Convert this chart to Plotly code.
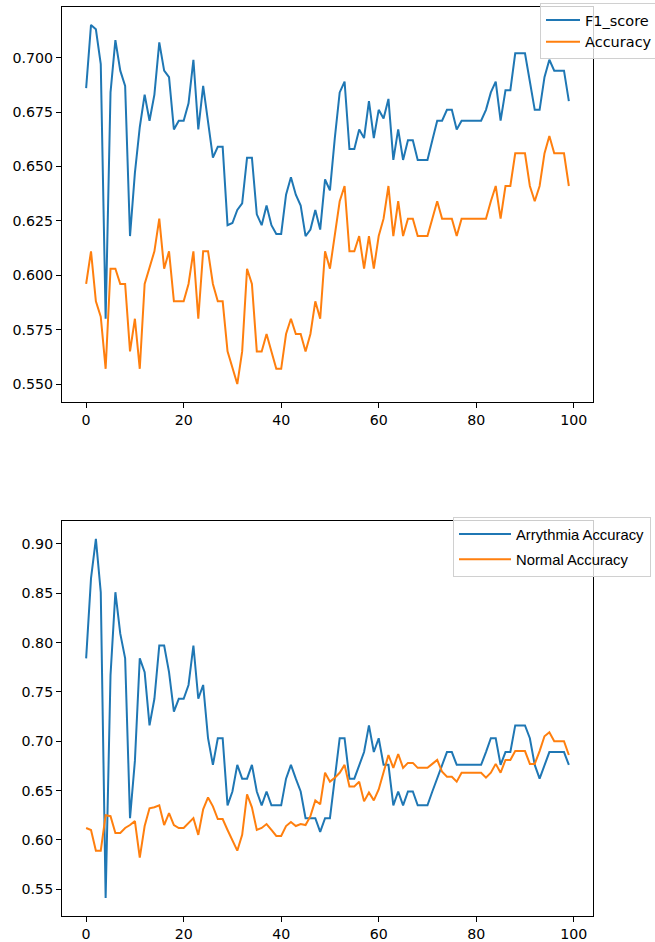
import plotly.graph_objects as go
from plotly.subplots import make_subplots

epochs = list(range(100))

f1_score = [0.686, 0.715, 0.713, 0.697, 0.580, 0.684, 0.708, 0.694, 0.687, 0.618,
            0.647, 0.668, 0.683, 0.671, 0.683, 0.707, 0.694, 0.691, 0.667, 0.671,
            0.671, 0.679, 0.699, 0.667, 0.687, 0.671, 0.654, 0.659, 0.659, 0.623,
            0.624, 0.630, 0.633, 0.654, 0.654, 0.628, 0.623, 0.632, 0.623, 0.619,
            0.619, 0.637, 0.645, 0.637, 0.632, 0.618, 0.621, 0.630, 0.621, 0.644,
            0.639, 0.663, 0.684, 0.689, 0.658, 0.658, 0.667, 0.663, 0.680, 0.663,
            0.676, 0.672, 0.681, 0.653, 0.667, 0.653, 0.662, 0.662, 0.653, 0.653,
            0.653, 0.662, 0.671, 0.671, 0.676, 0.676, 0.667, 0.671, 0.671, 0.671,
            0.671, 0.671, 0.676, 0.684, 0.689, 0.671, 0.685, 0.685, 0.702, 0.702,
            0.702, 0.689, 0.676, 0.676, 0.691, 0.699, 0.694, 0.694, 0.694, 0.680]

accuracy = [0.596, 0.611, 0.588, 0.581, 0.557, 0.603, 0.603, 0.596, 0.596, 0.565,
            0.580, 0.557, 0.596, 0.603, 0.611, 0.626, 0.603, 0.611, 0.588, 0.588,
            0.588, 0.596, 0.611, 0.580, 0.611, 0.611, 0.596, 0.588, 0.588, 0.565,
            0.557, 0.550, 0.565, 0.603, 0.596, 0.565, 0.565, 0.573, 0.565, 0.557,
            0.557, 0.573, 0.580, 0.573, 0.573, 0.565, 0.573, 0.588, 0.580, 0.611,
            0.603, 0.618, 0.634, 0.641, 0.611, 0.611, 0.618, 0.603, 0.618, 0.603,
            0.618, 0.626, 0.641, 0.618, 0.634, 0.618, 0.626, 0.626, 0.618, 0.618,
            0.618, 0.626, 0.634, 0.626, 0.626, 0.626, 0.618, 0.626, 0.626, 0.626,
            0.626, 0.626, 0.626, 0.634, 0.641, 0.626, 0.641, 0.641, 0.656, 0.656,
            0.656, 0.641, 0.634, 0.641, 0.656, 0.664, 0.656, 0.656, 0.656, 0.641]

arrythmia_accuracy = [0.784, 0.865, 0.905, 0.851, 0.541, 0.767, 0.851, 0.809, 0.784, 0.622,
                      0.680, 0.784, 0.770, 0.716, 0.743, 0.797, 0.797, 0.770, 0.730, 0.743,
                      0.743, 0.757, 0.797, 0.743, 0.757, 0.703, 0.676, 0.703, 0.703, 0.635,
                      0.649, 0.676, 0.662, 0.662, 0.676, 0.649, 0.635, 0.649, 0.635, 0.635,
                      0.635, 0.662, 0.676, 0.662, 0.649, 0.622, 0.622, 0.622, 0.608, 0.622,
                      0.622, 0.662, 0.703, 0.703, 0.662, 0.662, 0.676, 0.689, 0.716, 0.689,
                      0.703, 0.676, 0.676, 0.635, 0.649, 0.635, 0.649, 0.649, 0.635, 0.635,
                      0.635, 0.649, 0.662, 0.676, 0.689, 0.689, 0.676, 0.676, 0.676, 0.676,
                      0.676, 0.676, 0.689, 0.703, 0.703, 0.676, 0.689, 0.689, 0.716, 0.716,
                      0.716, 0.703, 0.676, 0.662, 0.676, 0.689, 0.689, 0.689, 0.689, 0.676]

normal_accuracy = [0.612, 0.610, 0.589, 0.589, 0.625, 0.624, 0.607, 0.607, 0.612, 0.615,
                   0.619, 0.582, 0.614, 0.632, 0.633, 0.635, 0.615, 0.627, 0.615, 0.612,
                   0.612, 0.617, 0.622, 0.605, 0.631, 0.643, 0.634, 0.621, 0.621, 0.610,
                   0.599, 0.589, 0.605, 0.646, 0.633, 0.610, 0.612, 0.616, 0.610, 0.604,
                   0.604, 0.614, 0.618, 0.614, 0.616, 0.615, 0.624, 0.640, 0.636, 0.668,
                   0.659, 0.663, 0.668, 0.676, 0.654, 0.654, 0.659, 0.639, 0.648, 0.640,
                   0.651, 0.669, 0.686, 0.673, 0.687, 0.673, 0.678, 0.678, 0.673, 0.673,
                   0.673, 0.677, 0.681, 0.669, 0.664, 0.664, 0.659, 0.668, 0.668, 0.668,
                   0.668, 0.668, 0.663, 0.668, 0.677, 0.668, 0.681, 0.681, 0.690, 0.690,
                   0.690, 0.677, 0.677, 0.690, 0.705, 0.709, 0.700, 0.700, 0.700, 0.686]

top_ticks = [0.550, 0.575, 0.600, 0.625, 0.650, 0.675, 0.700]
bottom_ticks = [0.55, 0.60, 0.65, 0.70, 0.75, 0.80, 0.85, 0.90]
x_ticks = [0, 20, 40, 60, 80, 100]

BLUE = "#1f77b4"
ORANGE = "#ff7f0e"

W, H = 655, 942
ML, MR, MT, MB = 62, 62, 7, 26
plot_h = H - MT - MB
plot_w = W - ML - MR


def pad(vals, frac=0.05):
    lo, hi = min(vals), max(vals)
    m = (hi - lo) * frac
    return [lo - m, hi + m]


fig = make_subplots(rows=2, cols=1)

fig.add_trace(go.Scatter(x=epochs, y=f1_score, mode="lines", name="F1_score",
                         line=dict(color=BLUE, width=2), legend="legend",
                         legendgroup="t1"), row=1, col=1)
fig.add_trace(go.Scatter(x=epochs, y=accuracy, mode="lines", name="Accuracy",
                         line=dict(color=ORANGE, width=2), legend="legend",
                         legendgroup="t2"), row=1, col=1)
fig.add_trace(go.Scatter(x=epochs, y=arrythmia_accuracy, mode="lines", name="Arrythmia Accuracy",
                         line=dict(color=BLUE, width=2), legend="legend2",
                         legendgroup="b1"), row=2, col=1)
fig.add_trace(go.Scatter(x=epochs, y=normal_accuracy, mode="lines", name="Normal Accuracy",
                         line=dict(color=ORANGE, width=2), legend="legend2",
                         legendgroup="b2"), row=2, col=1)

axis_common = dict(showline=True, linecolor="black", linewidth=1, mirror=True,
                   ticks="outside", ticklen=5, tickcolor="black", showgrid=False,
                   zeroline=False, tickfont=dict(family="DejaVu Sans", size=14.2, color="black"))

xr = pad(epochs)
fig.update_xaxes(range=xr, tickvals=x_ticks, **axis_common)

top_lo = (H - MB - 402) / plot_h
bot_hi = (H - MB - 521) / plot_h
fig.update_layout(
    yaxis=dict(domain=[top_lo, 1.0], range=pad(f1_score + accuracy),
               tickvals=top_ticks, tickformat=".3f", **axis_common),
    yaxis2=dict(domain=[0.0, bot_hi], range=pad(arrythmia_accuracy + normal_accuracy),
                tickvals=bottom_ticks, tickformat=".2f", **axis_common),
)

fig.update_layout(
    width=W, height=H,
    margin=dict(l=ML, r=MR, t=MT, b=MB, autoexpand=False),
    paper_bgcolor="white", plot_bgcolor="white",
    showlegend=True,
    legend=dict(x=(540 - ML) / plot_w, y=(H - MB - 3) / plot_h,
                xanchor="left", yanchor="top", tracegroupgap=0, itemwidth=34,
                bgcolor="rgba(255,255,255,0.8)", bordercolor="#d0d0d0", borderwidth=1,
                font=dict(family="DejaVu Sans", size=14.5, color="black")),
    legend2=dict(x=(453 - ML) / plot_w, y=(H - MB - 517) / plot_h,
                 xanchor="left", yanchor="top", tracegroupgap=3, itemwidth=52,
                 bgcolor="rgba(255,255,255,0.8)", bordercolor="#d0d0d0", borderwidth=1,
                 font=dict(family="Liberation Sans", size=14.8, color="black")),
)

fig.write_html("out.html", config={"displayModeBar": False},
               post_script="document.body.style.margin='0px';")
